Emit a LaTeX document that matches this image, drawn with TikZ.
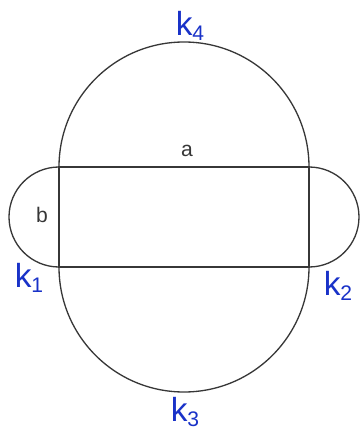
\documentclass[tikz,border=0pt]{standalone}
\usepackage{fontspec}
\setmainfont{Liberation Sans}
\definecolor{pen}{RGB}{25,50,200}
\definecolor{ink}{RGB}{55,55,55}
\newcommand{\klab}[1]{k\raisebox{-0.3ex}{\fontsize{12}{12}\selectfont #1}}
\begin{document}
\begin{tikzpicture}[line width=0.75pt, draw=ink,
  lbl/.style={text=pen, inner sep=0pt, font=\fontsize{19}{19}\selectfont},
  side/.style={text=ink, font=\fontsize{12}{12}\selectfont}]
\useasboundingbox (-1.18,-3.26) rectangle (6.02,5.34);
\coordinate (k1c) at (0,0);
\coordinate (k2c) at (5,0);
\coordinate (tr) at (5,2);
\coordinate (tl) at (0,2);
\draw (k1c) rectangle (tr);
\draw (tl) arc[start angle=180, end angle=0, radius=2.5];
\draw (k1c) arc[start angle=180, end angle=360, radius=2.5];
\draw (tl) arc[start angle=90, end angle=270, radius=1];
\draw (tr) arc[start angle=90, end angle=-90, radius=1];
\node[side] (a) at (2.56,2.32) {a};
\node[side] (b) at (-0.34,1.04) {b};
\node[lbl] (k4) at (2.62,4.82) {\klab{4}};
\node[lbl] (k1) at (-0.6,-0.22) {\klab{1}};
\node[lbl] (k2) at (5.58,-0.38) {\klab{2}};
\node[lbl] (k3) at (2.52,-2.9) {\klab{3}};
\end{tikzpicture}
\end{document}
